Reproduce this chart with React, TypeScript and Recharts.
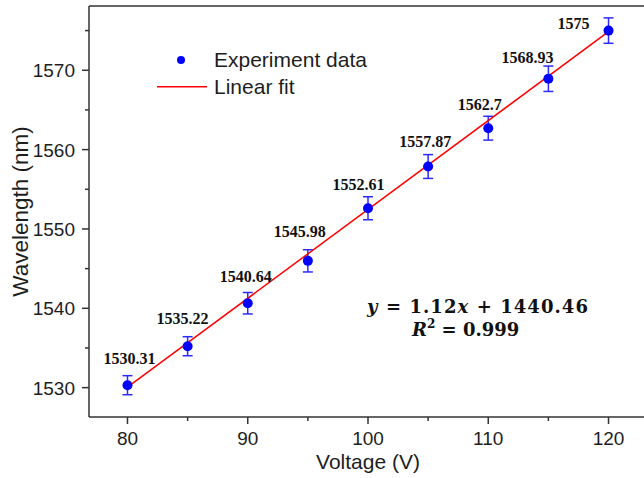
import React from 'react';
import { ComposedChart, Scatter, Line, XAxis, YAxis, ErrorBar, LabelList, Legend, Label, ReferenceLine } from 'recharts';

// ---- data ----
const voltage = [80, 85, 90, 95, 100, 105, 110, 115, 120];
const wavelength = [1530.31, 1535.22, 1540.64, 1545.98, 1552.61, 1557.87, 1562.7, 1568.93, 1575];
const wavelengthError = [1.2, 1.2, 1.35, 1.4, 1.45, 1.5, 1.5, 1.6, 1.6];
const fitVoltage = [80, 120];
const fitWavelength = [1530.06, 1574.86];
const xTicks = [80, 85, 90, 95, 100, 105, 110, 115, 120];
const yTicks = [1530, 1535, 1540, 1545, 1550, 1555, 1560, 1565, 1570, 1575];
const equationLine1 = 'y = 1.12x + 1440.46';
const equationLine2 = 'R2 = 0.999';

const points = voltage.map((x, i) => ({ x, y: wavelength[i], err: wavelengthError[i] }));
const fitData = fitVoltage.map((x, i) => ({ x, y: fitWavelength[i] }));

// ---- styling ----
const AXIS = '#333333';
const TEXT = '#1e1e1e';
const SANS = '"Liberation Sans", Arial, sans-serif';
const SERIF = '"Liberation Serif", "Times New Roman", serif';
const X_DOMAIN: [number, number] = [76.8, 123.2];
const Y_DOMAIN: [number, number] = [1526.3, 1578.1];
// label placement relative to each point (dx of text centre, dy of baseline)
const LABEL_SHIFT = [
  [2, -21], [-5, -22], [-2, -21], [-8, -24], [-9.5, -18.5], [-3, -20], [-8.5, -18], [-21, -15.5], [-35, -1.5],
];

const XTick = (props: any) => {
  const { x, y, payload } = props;
  const major = payload.value % 10 === 0;
  return (
    <g>
      <line x1={x} x2={x} y1={y} y2={y + (major ? 7 : 4)} stroke={AXIS} strokeWidth={1.5} />
      {major && (
        <text x={x} y={y + 28} textAnchor="middle" fontSize={19} fontFamily={SANS} fill={TEXT}>
          {payload.value}
        </text>
      )}
    </g>
  );
};

const YTick = (props: any) => {
  const { x, y, payload } = props;
  const major = payload.value % 10 === 0;
  return (
    <g>
      <line x1={x - (major ? 7 : 4)} x2={x} y1={y} y2={y} stroke={AXIS} strokeWidth={1.5} />
      {major && (
        <text x={x - 14} y={y + 7} textAnchor="end" fontSize={19} fontFamily={SANS} fill={TEXT}>
          {payload.value}
        </text>
      )}
    </g>
  );
};

const RightTick = (props: any) => {
  const { x, y, payload } = props;
  const major = payload.value % 10 === 0;
  return <line x1={x - (major ? 7 : 4)} x2={x} y1={y} y2={y} stroke={AXIS} strokeWidth={1.5} />;
};

const PointLabel = (props: any) => {
  const { x, y, width, height, value, index } = props;
  const cx = x + width / 2;
  const cy = y + height / 2;
  const [dx, dy] = LABEL_SHIFT[index] || [0, -20];
  return (
    <text x={cx + dx} y={cy + dy} textAnchor="middle" fontSize={16} fontWeight="bold" fontFamily={SERIF} fill="#111">
      {value}
    </text>
  );
};

const renderLegend = (props: any) => {
  const payload = props.payload || [];
  return (
    <svg width={240} height={64} style={{ display: 'block' }}>
      {payload.map((entry: any, i: number) => {
        const symY = i === 0 ? 18 : 44.7;
        const txtY = i === 0 ? 25 : 51.5;
        return (
          <g key={i}>
            {entry.type === 'circle' ? (
              <circle cx={31} cy={symY} r={4} fill="#0000ff" />
            ) : (
              <line x1={7} x2={57} y1={symY} y2={symY} stroke="#ff0000" strokeWidth={1.5} />
            )}
            <text x={64} y={txtY} fontSize={21} fontFamily={SANS} fill={TEXT}>
              {entry.value}
            </text>
          </g>
        );
      })}
    </svg>
  );
};

const Dot = (props: any) => {
  const { cx, cy } = props;
  return <circle cx={cx} cy={cy} r={5} fill="#0000ff" />;
};

export default function App() {
  return (
    <div style={{ position: 'fixed', left: 0, top: 0, width: 644, height: 478, overflow: 'hidden', background: '#fff' }}>
      <ComposedChart width={660} height={478} margin={{ top: 6, right: 13, bottom: 0, left: 0 }}>
        <XAxis
          dataKey="x"
          type="number"
          domain={X_DOMAIN}
          ticks={xTicks}
          interval={0}
          allowDataOverflow
          height={61}
          tickSize={0}
          tickMargin={0}
          tickLine={false}
          tick={<XTick />}
          axisLine={{ stroke: AXIS, strokeWidth: 1.5 }}
        >
          <Label value="Voltage (V)" position="insideBottom" offset={9} fontSize={21} fontFamily={SANS} fill={TEXT} />
        </XAxis>
        <YAxis
          type="number"
          domain={Y_DOMAIN}
          ticks={yTicks}
          interval={0}
          allowDataOverflow
          width={89}
          tickSize={0}
          tickMargin={0}
          tickLine={false}
          tick={<YTick />}
          axisLine={{ stroke: AXIS, strokeWidth: 1.5 }}
        >
          <Label
            value="Wavelength (nm)"
            angle={-90}
            position="insideLeft"
            offset={20}
            fontSize={22.5}
            fontFamily={SANS}
            fill={TEXT}
            style={{ textAnchor: 'middle' }}
          />
        </YAxis>
        <YAxis
          yAxisId="right"
          orientation="right"
          type="number"
          domain={Y_DOMAIN}
          ticks={yTicks}
          interval={0}
          allowDataOverflow
          width={0}
          tickSize={0}
          tickMargin={0}
          tickLine={false}
          tick={<RightTick />}
          axisLine={{ stroke: AXIS, strokeWidth: 1.5 }}
        />
        <ReferenceLine y={Y_DOMAIN[1]} stroke={AXIS} strokeWidth={1.5} ifOverflow="extendDomain" />
        <Legend
          layout="horizontal"
          verticalAlign="middle"
          align="center"
          content={renderLegend}
          wrapperStyle={{ left: 150, top: 42, width: 240, height: 64 }}
        />
        <Scatter
          name="Experiment data"
          data={points}
          dataKey="y"
          legendType="circle"
          fill="#0000ff"
          shape={<Dot />}
          isAnimationActive={false}
        >
          <ErrorBar dataKey="err" direction="y" width={5} stroke="#2b2bff" strokeWidth={1.5} />
          <LabelList dataKey="y" content={<PointLabel />} />
        </Scatter>
        <Line
          name="Linear fit"
          data={fitData}
          dataKey="y"
          type="linear"
          stroke="#ff0000"
          strokeWidth={1.5}
          dot={false}
          activeDot={false}
          legendType="line"
          isAnimationActive={false}
        />
        <g fontFamily='"DejaVu Serif", serif' fontWeight="bold" fill="#111" fontSize={18}>
          <text x={367} y={313} textLength={221} lengthAdjust="spacing">
            <tspan fontStyle="italic">{equationLine1.slice(0, 1)}</tspan>
            {equationLine1.slice(1, 8)}
            <tspan fontStyle="italic">{equationLine1.slice(8, 9)}</tspan>
            {equationLine1.slice(9)}
          </text>
          <text x={412} y={336}>
            <tspan fontStyle="italic">{equationLine2.slice(0, 1)}</tspan>
            <tspan fontSize={12} dy={-8}>{equationLine2.slice(1, 2)}</tspan>
            <tspan dy={8}>{equationLine2.slice(2)}</tspan>
          </text>
        </g>
      </ComposedChart>
    </div>
  );
}
